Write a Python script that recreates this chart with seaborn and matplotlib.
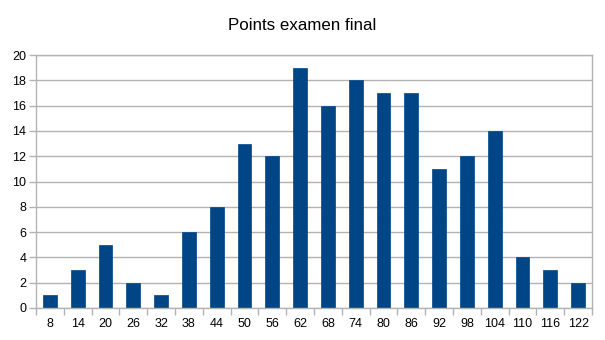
import matplotlib
matplotlib.use("Agg")
import matplotlib.pyplot as plt
import seaborn as sns
import pandas as pd
import numpy as np

categories = ["8", "14", "20", "26", "32", "38", "44", "50", "56", "62",
              "68", "74", "80", "86", "92", "98", "104", "110", "116", "122"]
counts = [1, 3, 5, 2, 1, 6, 8, 13, 12, 19, 16, 18, 17, 17, 11, 12, 14, 4, 3, 2]
title = "Points examen final"

sns.set_theme(style="white")
plt.rcParams["font.family"] = ["Liberation Sans", "DejaVu Sans"]

df = pd.DataFrame({"cat": categories, "n": counts})

fig = plt.figure(figsize=(6.05, 3.4), dpi=100)
ax = fig.add_axes([36/605, 1 - 308/340, (592-36)/605, (308-55)/340])
sns.barplot(data=df, x="cat", y="n", color="#004586", width=0.5,
            saturation=1, ax=ax, order=categories, edgecolor="#004586", linewidth=0.5)
ax.set_xlim(-0.5, len(categories) - 0.5)
ax.set_ylim(0, 20)
ax.set_yticks(range(0, 21, 2))
ax.yaxis.grid(True, color="#b3b3b3", linewidth=1)
ax.set_axisbelow(True)
for s in ax.spines.values():
    s.set_color("#b3b3b3")
    s.set_linewidth(1)
ax.set_xlabel("")
ax.set_ylabel("")
ax.tick_params(axis="y", length=5, color="#b3b3b3", width=1, labelsize=9, pad=2, left=True)
ax.tick_params(axis="x", which="major", length=0, labelsize=9, pad=7)
ax.set_xticks(np.arange(-0.5, len(categories)), minor=True)
ax.tick_params(axis="x", which="minor", length=5, color="#b3b3b3", width=1, bottom=True)
for lbl in ax.get_xticklabels() + ax.get_yticklabels():
    lbl.set_color("#000000")
fig.text(0.5, 1 - 25/340, title, ha="center", va="center", fontsize=12.2, color="#000000")
fig.savefig("out.png", dpi=100)
